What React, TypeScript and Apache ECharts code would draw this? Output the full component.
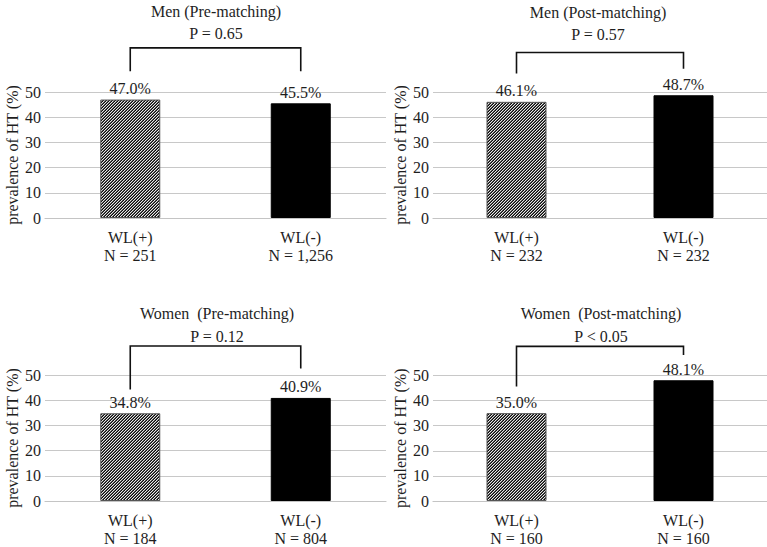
import React, { useEffect, useRef } from "react";
import * as echarts from "echarts";

const categories = ["WL(+)", "WL(-)"];
const panelTitles = [
  "Men (Pre-matching)",
  "Men (Post-matching)",
  "Women  (Pre-matching)",
  "Women  (Post-matching)",
];
const pLabels = ["P = 0.65", "P = 0.57", "P = 0.12", "P < 0.05"];
const menPre = [47.0, 45.5];
const menPost = [46.1, 48.7];
const womenPre = [34.8, 40.9];
const womenPost = [35.0, 48.1];
const nMenPre = ["251", "1,256"];
const nMenPost = ["232", "232"];
const nWomenPre = ["184", "804"];
const nWomenPost = ["160", "160"];
const bracketTop = [67.5, 65.7, 61.5, 61.6];
const bracketLegs = [
  [58.2, 58.2],
  [57.3, 59.2],
  [44.2, 52.6],
  [45.6, 58.2],
];
const yMin = 0;
const yMax = 50;
const yStep = 10;

const seriesValues = [menPre, menPost, womenPre, womenPost];
const nValues = [nMenPre, nMenPost, nWomenPre, nWomenPost];

const FONT = "Liberation Serif";
const TXT = "#1e1e1e";
const FS = 16;

const grids = [
  { left: 45, right: 381, top: 92, height: 126 },
  { left: 433, right: -5, top: 92, height: 126 },
  { left: 45, right: 381, top: 375, height: 128 },
  { left: 433, right: -5, top: 375.5, height: 128 },
];
const titlePos = [
  { x: 216, y: 11, py: 33 },
  { x: 598, y: 12, py: 34 },
  { x: 217, y: 313, py: 336 },
  { x: 601, y: 313, py: 336 },
];

function makeHatch(): HTMLCanvasElement {
  const c = document.createElement("canvas");
  c.width = 3;
  c.height = 3;
  const ctx = c.getContext("2d")!;
  for (let x = 0; x < 3; x++) {
    for (let y = 0; y < 3; y++) {
      const d = (x + y) % 3;
      ctx.fillStyle = d === 2 ? "#0a0a0a" : d === 1 ? "#5a5a5a" : "#e8e8e8";
      ctx.fillRect(x, y, 1, 1);
    }
  }
  return c;
}

export default function App() {
  const ref = useRef<HTMLDivElement>(null);
  useEffect(() => {
    if (!ref.current) return;
    const chart = echarts.init(ref.current, undefined, { renderer: "svg" });
    const hatch = makeHatch();
    const pattern: any = {
      image: hatch,
      repeat: "repeat",
      imageWidth: 3,
      imageHeight: 3,
    };

    const option: any = {
      animation: false,
      backgroundColor: "#ffffff",
      textStyle: { fontFamily: FONT },
      grid: grids.map((g) => ({ ...g, containLabel: false })),
      xAxis: grids.map((_, i) => ({
        type: "category",
        gridIndex: i,
        data: categories,
        axisLine: { lineStyle: { color: "#c4c4c4", width: 1.2 } },
        axisTick: { show: false },
        axisLabel: {
          margin: 10,
          fontSize: FS,
          lineHeight: 18,
          fontFamily: FONT,
          color: TXT,
          formatter: (val: string, idx: number) => `${val}\nN = ${nValues[i][idx]}`,
        },
      })),
      yAxis: grids.map((_, i) => ({
        type: "value",
        gridIndex: i,
        min: yMin,
        max: yMax,
        interval: yStep,
        axisLine: { show: false },
        axisTick: { show: false },
        splitLine: { lineStyle: { color: "#c8c8c8", width: 1.2 } },
        axisLabel: { margin: 4, fontSize: FS, fontFamily: FONT, color: TXT },
        name: "prevalence of HT (%)",
        nameLocation: "middle",
        nameGap: 25,
        nameRotate: 90,
        nameTextStyle: { fontSize: FS, fontFamily: FONT, color: TXT },
      })),
      series: seriesValues.map((vals, i) => ({
        type: "bar",
        xAxisIndex: i,
        yAxisIndex: i,
        barWidth: 60,
        data: vals.map((v, k) => ({
          value: v,
          itemStyle:
            k === 0
              ? { color: pattern, borderColor: "#555", borderWidth: 1 }
              : { color: "#000", borderColor: "#000", borderWidth: 1 },
        })),
        label: {
          show: true,
          position: "top",
          distance: 3,
          fontSize: FS,
          fontFamily: FONT,
          color: TXT,
          formatter: (p: any) => `${Number(p.value).toFixed(1)}%`,
        },
      })),
    };
    chart.setOption(option);

    const graphics: any[] = [];
    for (let i = 0; i < 4; i++) {
      graphics.push({
        type: "text",
        x: titlePos[i].x,
        y: titlePos[i].y,
        style: {
          text: panelTitles[i],
          fontSize: FS,
          fontFamily: FONT,
          fill: TXT,
          textAlign: "center",
          textVerticalAlign: "middle",
        },
      });
      graphics.push({
        type: "text",
        x: titlePos[i].x,
        y: titlePos[i].py,
        style: {
          text: pLabels[i],
          fontSize: FS,
          fontFamily: FONT,
          fill: TXT,
          textAlign: "center",
          textVerticalAlign: "middle",
        },
      });
      const pL0 = chart.convertToPixel({ gridIndex: i } as any, [0, bracketLegs[i][0]]) as number[];
      const pT0 = chart.convertToPixel({ gridIndex: i } as any, [0, bracketTop[i]]) as number[];
      const pT1 = chart.convertToPixel({ gridIndex: i } as any, [1, bracketTop[i]]) as number[];
      const pL1 = chart.convertToPixel({ gridIndex: i } as any, [1, bracketLegs[i][1]]) as number[];
      graphics.push({
        type: "polyline",
        shape: { points: [pL0, pT0, pT1, pL1] },
        style: { stroke: "#111", lineWidth: 1.6, fill: "none" },
      });
    }
    chart.setOption({ graphic: graphics });

    return () => chart.dispose();
  }, []);

  return (
    <div
      ref={ref}
      style={{ position: "fixed", left: 0, top: 0, width: 767, height: 547, background: "#fff" }}
    />
  );
}
